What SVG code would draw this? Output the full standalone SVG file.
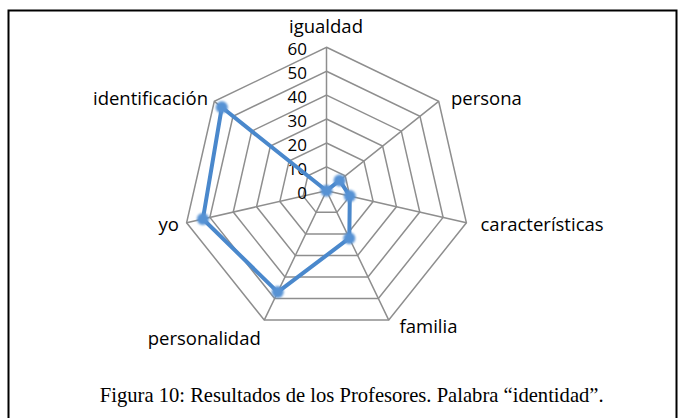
<svg xmlns="http://www.w3.org/2000/svg" width="685" height="418" viewBox="0 0 685 418">
<style>
.grid{fill:none;stroke:#8e8e8e;stroke-width:1.5}
.lbl{font-family:"Open Sans","Liberation Sans",sans-serif;font-size:18.5px;fill:#000}
.tick{font-family:"Open Sans","Liberation Sans",sans-serif;font-size:17px;fill:#000;text-anchor:end}
.cap{font-family:"Liberation Serif","DejaVu Serif",serif;font-size:20.6px;fill:#000;text-anchor:middle}
.series{fill:none;stroke:#4a88cc;stroke-width:4;stroke-linejoin:round}
.mk{fill:#5692d4;filter:url(#soft)}
</style>
<defs>
<filter id="soft" x="-50%" y="-50%" width="200%" height="200%"><feGaussianBlur stdDeviation="1"/></filter>
</defs>
<rect x="8.5" y="10.5" width="668" height="420" fill="#fff" stroke="#000" stroke-width="2"/>
<g id="grid">
<polygon class="grid" points="326.5,47.3 438.69,101.33 466.4,222.73 388.76,320.09 264.24,320.09 186.6,222.73 214.31,101.33"/>
<polygon class="grid" points="326.5,71.22 419.99,116.24 443.09,217.41 378.38,298.54 274.62,298.54 209.91,217.41 233.01,116.24"/>
<polygon class="grid" points="326.5,95.13 401.3,131.15 419.77,212.09 368.01,276.99 284.99,276.99 233.23,212.09 251.7,131.15"/>
<polygon class="grid" points="326.5,119.05 382.6,146.06 396.45,206.77 357.63,255.44 295.37,255.44 256.55,206.77 270.4,146.06"/>
<polygon class="grid" points="326.5,142.97 363.9,160.98 373.13,201.44 347.25,233.9 305.75,233.9 279.87,201.44 289.1,160.98"/>
<polygon class="grid" points="326.5,166.88 345.2,175.89 349.82,196.12 336.88,212.35 316.12,212.35 303.18,196.12 307.8,175.89"/>
<path class="grid" d="M326.5,190.8L326.5,47.3M326.5,190.8L438.69,101.33M326.5,190.8L466.4,222.73M326.5,190.8L388.76,320.09M326.5,190.8L264.24,320.09M326.5,190.8L186.6,222.73M326.5,190.8L214.31,101.33"/>
</g>
<g id="ticks">
<text class="tick" x="307" y="54.5">60</text>
<text class="tick" x="307" y="78.5">50</text>
<text class="tick" x="307" y="102.5">40</text>
<text class="tick" x="307" y="126.5">30</text>
<text class="tick" x="307" y="150.5">20</text>
<text class="tick" x="307" y="174.5">10</text>
<text class="tick" x="307" y="198.5">0</text>
</g>
<g id="labels">
<text class="lbl" x="326" y="33" text-anchor="middle">igualdad</text>
<text class="lbl" x="451" y="104.5">persona</text>
<text class="lbl" x="480.5" y="230.5">características</text>
<text class="lbl" x="399.5" y="333">familia</text>
<text class="lbl" x="260.8" y="345" text-anchor="end">personalidad</text>
<text class="lbl" x="179" y="230.5" text-anchor="end">yo</text>
<text class="lbl" x="208" y="104.5" text-anchor="end">identificación</text>
</g>
<g id="connectors">
<polygon class="series" points="326.5,190.8 339.6,180.4 349.8,196.1 349.3,238.2 277.7,292.1 202.9,219 221.8,107.3"/>
</g>
<g id="markers">
<circle class="mk" cx="326.5" cy="190.8" r="6"/>
<circle class="mk" cx="339.6" cy="180.4" r="6"/>
<circle class="mk" cx="349.8" cy="196.1" r="6"/>
<circle class="mk" cx="349.3" cy="238.2" r="6"/>
<circle class="mk" cx="277.7" cy="292.1" r="6"/>
<circle class="mk" cx="202.9" cy="219" r="6"/>
<circle class="mk" cx="221.8" cy="107.3" r="6"/>
</g>
<text class="cap" x="351.7" y="401.5">Figura 10: Resultados de los Profesores. Palabra “identidad”.</text>
</svg>
